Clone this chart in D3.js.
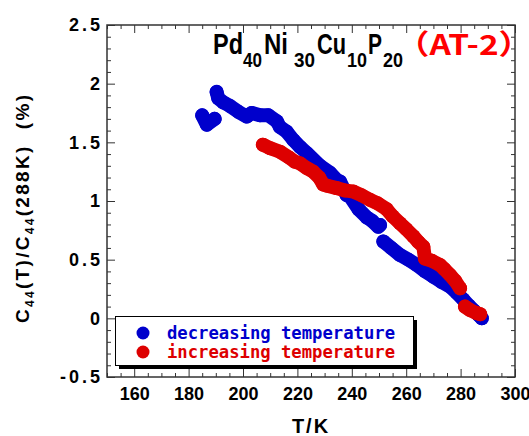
<!DOCTYPE html>
<html>
<head>
<meta charset="utf-8">
<script src="https://cdn.jsdelivr.net/npm/d3@7"></script>
<style>
  body { margin: 0; background: #fff; }
  svg { display: block; font-family: "Liberation Sans", Arial, sans-serif; }
  .tick line { stroke: #333; }
</style>
</head>
<body>
<div id="chart"></div>
<script>
// decreasing temperature run (blue), seg marks the breaks in the record
var decT = [185.0, 186.7, 189.6,
  190.3, 190.9, 192.8, 195.2, 198.3, 201.4, 203.2, 206.3, 209.3, 212.4, 213.6, 216.1, 218.5, 221.0,
  223.4, 228.3, 232.0, 234.4, 235.7, 238.1, 239.3, 242.5, 245.5, 247.5, 249.7, 250.4,
  251.6, 254.5, 257.7, 260.8, 263.9, 267.0, 270.0, 273.0, 276.1, 278.5, 281.0, 283.0, 284.7, 286.5, 287.8];
var decV = [1.73, 1.65, 1.70,
  1.93, 1.875, 1.84, 1.81, 1.76, 1.72, 1.75, 1.73, 1.73, 1.68, 1.63, 1.59, 1.52, 1.46,
  1.41, 1.30, 1.24, 1.18, 1.165, 1.05, 1.04, 0.93, 0.86, 0.83, 0.78, 0.795,
  0.655, 0.60, 0.54, 0.50, 0.455, 0.40, 0.355, 0.31, 0.27, 0.22, 0.16, 0.11, 0.07, 0.03, 0.0];
var decSeg = [0, 0, 0,
  1, 1, 1, 1, 1, 1, 1, 1, 1, 1, 1, 1, 1, 1,
  1, 1, 1, 1, 1, 1, 1, 1, 1, 1, 1, 1,
  2, 2, 2, 2, 2, 2, 2, 2, 2, 2, 2, 2, 2, 2, 2];

// increasing temperature run (red)
var incT = [207.3, 210.0, 213.6, 217.0, 219.1, 221.0, 223.5, 225.8, 228.0, 229.5, 231.0, 234.4, 237.5,
  240.6, 243.5, 246.7, 249.5, 252.8, 255.0, 257.7, 260.0, 262.6, 264.5, 266.3, 266.9, 269.5, 272.4,
  274.0, 276.1, 278.0, 279.8,
  281.6, 283.5, 285.9, 287.2];
var incV = [1.48, 1.45, 1.42, 1.37, 1.335, 1.32, 1.28, 1.25, 1.20, 1.14, 1.13, 1.11, 1.09,
  1.08, 1.05, 1.01, 0.98, 0.93, 0.87, 0.81, 0.76, 0.70, 0.65, 0.61, 0.51, 0.49, 0.455,
  0.42, 0.37, 0.32, 0.256,
  0.10, 0.07, 0.045, 0.035];
var incSeg = [0, 0, 0, 0, 0, 0, 0, 0, 0, 0, 0, 0, 0,
  0, 0, 0, 0, 0, 0, 0, 0, 0, 0, 0, 0, 0, 0,
  0, 0, 0, 0,
  1, 1, 1, 1];

var xMajor = [160, 180, 200, 220, 240, 260, 280, 300];
var yMajor = [-0.5, 0, 0.5, 1, 1.5, 2, 2.5];
var legendLabels = ['decreasing temperature', 'increasing temperature'];

var blue = '#0000cc', red = '#dd0000';
var width = 529, height = 436;

var svg = d3.select('#chart').append('svg')
  .attr('width', width)
  .attr('height', height);

var x = d3.scaleLinear().domain([150, 300]).range([107, 515]);
var y = d3.scaleLinear().domain([-0.5, 2.5]).range([377, 25]);

var xMinor = d3.range(150, 301, 5).filter(function(v) { return xMajor.indexOf(v) < 0; });
var yMinor = d3.range(-5, 26, 1).map(function(v) { return v / 10; })
  .filter(function(v) { return yMajor.indexOf(v) < 0; });

function addAxis(axis, tx, ty, labels) {
  var g = svg.append('g')
    .attr('transform', 'translate(' + tx + ',' + ty + ')')
    .call(axis);
  g.select('.domain').remove();
  if (!labels) g.selectAll('text').remove();
  return g;
}

// ticks point inward on all four sides
var bottom = addAxis(d3.axisBottom(x).tickValues(xMajor).tickSize(-8).tickPadding(10), 0, 377, true);
bottom.selectAll('text').attr('font-size', 18).attr('font-weight', 'bold').attr('fill', '#000')
  .attr('font-family', '"Liberation Sans", Arial, sans-serif');
addAxis(d3.axisBottom(x).tickValues(xMinor).tickSize(-4), 0, 377, false);
addAxis(d3.axisTop(x).tickValues(xMajor).tickSize(-8), 0, 25, false);
addAxis(d3.axisTop(x).tickValues(xMinor).tickSize(-4), 0, 25, false);

var left = addAxis(d3.axisLeft(y).tickValues(yMajor).tickSize(-8).tickPadding(4)
  .tickFormat(function(d) { return String(d); }), 107, 0, true);
left.selectAll('text').attr('font-size', 18).attr('font-weight', 'bold').attr('fill', '#000')
  .attr('font-family', '"Liberation Sans", Arial, sans-serif')
  .style('letter-spacing', '3px');
addAxis(d3.axisLeft(y).tickValues(yMinor).tickSize(-4), 107, 0, false);
addAxis(d3.axisRight(y).tickValues(yMajor).tickSize(-8), 515, 0, false);
addAxis(d3.axisRight(y).tickValues(yMinor).tickSize(-4), 515, 0, false);

// frame
svg.append('rect')
  .attr('x', x(150)).attr('y', y(2.5))
  .attr('width', x(300) - x(150)).attr('height', y(-0.5) - y(2.5))
  .attr('fill', 'none').attr('stroke', '#333').attr('stroke-width', 1.5);

// data
var line = d3.line().x(function(d) { return x(d.t); }).y(function(d) { return y(d.v); });

function drawRun(ts, vs, segs, color) {
  var pts = ts.map(function(t, i) { return { t: t, v: vs[i], s: segs[i] }; });
  var groups = d3.groups(pts, function(d) { return d.s; });
  var g = svg.append('g');
  g.selectAll('path')
    .data(groups)
    .enter().append('path')
      .attr('d', function(d) { return line(d[1]); })
      .attr('fill', 'none')
      .attr('stroke', color)
      .attr('stroke-width', 14)
      .attr('stroke-linecap', 'round')
      .attr('stroke-linejoin', 'round');
  g.selectAll('circle')
    .data(pts)
    .enter().append('circle')
      .attr('cx', function(d) { return x(d.t); })
      .attr('cy', function(d) { return y(d.v); })
      .attr('r', 7)
      .attr('fill', color);
}
drawRun(decT, decV, decSeg, blue);
drawRun(incT, incV, incSeg, red);

// title
var title = [
  { s: 'Pd', x: 213, w: 30, sub: false },
  { s: '40', x: 243, w: 19, sub: true },
  { s: 'Ni', x: 264, w: 24, sub: false },
  { s: '30', x: 294, w: 21, sub: true },
  { s: 'Cu', x: 317, w: 29, sub: false },
  { s: '10', x: 347, w: 20, sub: true },
  { s: 'P', x: 368, w: 14, sub: false },
  { s: '20', x: 383, w: 20, sub: true }
];
svg.selectAll('.title-part')
  .data(title)
  .enter().append('text')
    .attr('class', 'title-part')
    .attr('x', function(d) { return d.x; })
    .attr('y', function(d) { return d.sub ? 67 : 54; })
    .attr('font-size', function(d) { return d.sub ? 20 : 29; })
    .attr('font-weight', 'bold')
    .attr('textLength', function(d) { return d.w; })
    .attr('lengthAdjust', 'spacingAndGlyphs')
    .text(function(d) { return d.s; });
svg.append('text')
  .attr('x', 396).attr('y', 55)
  .attr('font-family', '"Noto Sans CJK JP", "Noto Sans CJK SC", sans-serif')
  .attr('font-size', 28)
  .attr('font-weight', 'bold')
  .attr('fill', '#ff0000')
  .attr('textLength', 136)
  .attr('lengthAdjust', 'spacingAndGlyphs')
  .text('（AT-2）');

// axis titles
svg.append('text')
  .attr('x', 311).attr('y', 433)
  .attr('text-anchor', 'middle')
  .attr('font-size', 20).attr('font-weight', 'bold')
  .style('letter-spacing', '2px')
  .text('T/K');

var yl = svg.append('text')
  .attr('transform', 'translate(29,323) rotate(-90)')
  .attr('font-size', 19).attr('font-weight', 'bold')
  .attr('textLength', 228)
  .style('white-space', 'pre');
yl.append('tspan').text('C');
yl.append('tspan').attr('dy', 5).attr('font-size', 12).text('44');
yl.append('tspan').attr('dy', -5).text('(T)/C');
yl.append('tspan').attr('dy', 5).attr('font-size', 12).text('44');
yl.append('tspan').attr('dy', -5).text('(288K)  (%)');

// legend with drop shadow
svg.append('rect').attr('x', 119).attr('y', 320).attr('width', 298).attr('height', 49).attr('fill', '#000');
svg.append('rect').attr('x', 115.5).attr('y', 316.5).attr('width', 298).attr('height', 49)
  .attr('fill', '#fff').attr('stroke', '#000').attr('stroke-width', 1);
var leg = svg.selectAll('.legend-item')
  .data(legendLabels)
  .enter().append('g')
    .attr('class', 'legend-item')
    .attr('transform', function(d, i) { return 'translate(0,' + (i * 19) + ')'; });
leg.append('circle')
  .attr('cx', 143).attr('cy', 333).attr('r', 6.5)
  .attr('fill', function(d, i) { return i ? red : blue; });
leg.append('text')
  .attr('x', 167).attr('y', 339)
  .attr('font-family', '"DejaVu Sans Mono", monospace')
  .attr('font-size', 17)
  .attr('font-weight', 'bold')
  .attr('textLength', 228)
  .attr('lengthAdjust', 'spacingAndGlyphs')
  .attr('fill', function(d, i) { return i ? red : blue; })
  .text(function(d) { return d; });
</script>
</body>
</html>
